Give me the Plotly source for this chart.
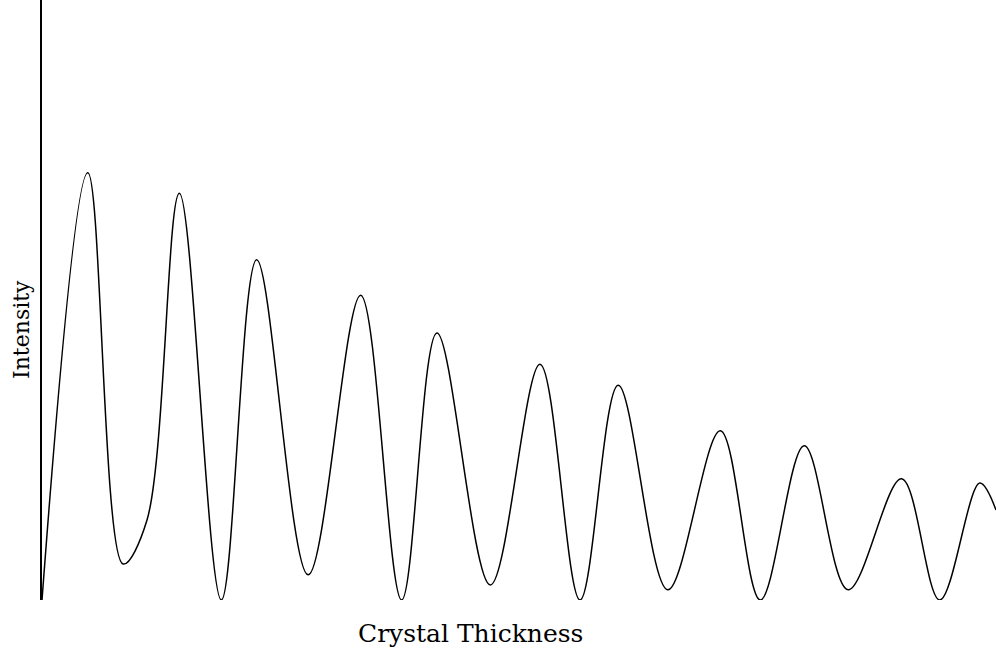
import plotly.graph_objects as go

# Thickness-dependent intensity: damped oscillation (Pendellösung-like fringes)
thickness = [0, 4.8, 8.5, 11.0, 14.4, 18.8, 22.5, 27.9, 33.4, 37.7, 41.4, 47.0,
             52.2, 56.4, 60.4, 65.6, 71.1, 75.3, 79.9, 84.5, 90.1, 94.1, 98.3, 100]
intensity = [0, 71.2, 6.0, 13.3, 67.8, 0, 56.7, 4.2, 50.8, 0, 44.5, 2.5,
             39.3, 0, 35.8, 1.7, 28.2, 0, 25.7, 1.7, 20.2, 0, 19.5, 15]

x_title = "Crystal Thickness"
y_title = "Intensity"

fig = go.Figure(
    go.Scatter(
        x=thickness,
        y=intensity,
        mode="lines",
        line=dict(color="black", width=1.5, shape="spline", smoothing=1.0),
        cliponaxis=False,
        hoverinfo="skip",
    )
)

fig.update_layout(
    width=996,
    height=656,
    margin=dict(l=42, r=0, t=0, b=56),
    paper_bgcolor="white",
    plot_bgcolor="white",
    showlegend=False,
    font=dict(family="DejaVu Serif", color="black"),
    xaxis=dict(
        range=[0, 100],
        showgrid=False,
        zeroline=False,
        showline=False,
        showticklabels=False,
        ticks="",
    ),
    yaxis=dict(
        range=[0, 100],
        showgrid=False,
        zeroline=False,
        showline=True,
        linecolor="black",
        linewidth=1.5,
        showticklabels=False,
        ticks="",
    ),
    annotations=[
        dict(
            text=x_title, xref="paper", yref="paper", x=0.449, y=-0.055,
            xanchor="center", yanchor="middle", showarrow=False,
            font=dict(size=25),
        ),
        dict(
            text=y_title, xref="paper", yref="paper", x=-0.022, y=0.45,
            xanchor="center", yanchor="middle", showarrow=False,
            textangle=-90, font=dict(size=22),
        ),
    ],
)

fig.write_html("out.html")
